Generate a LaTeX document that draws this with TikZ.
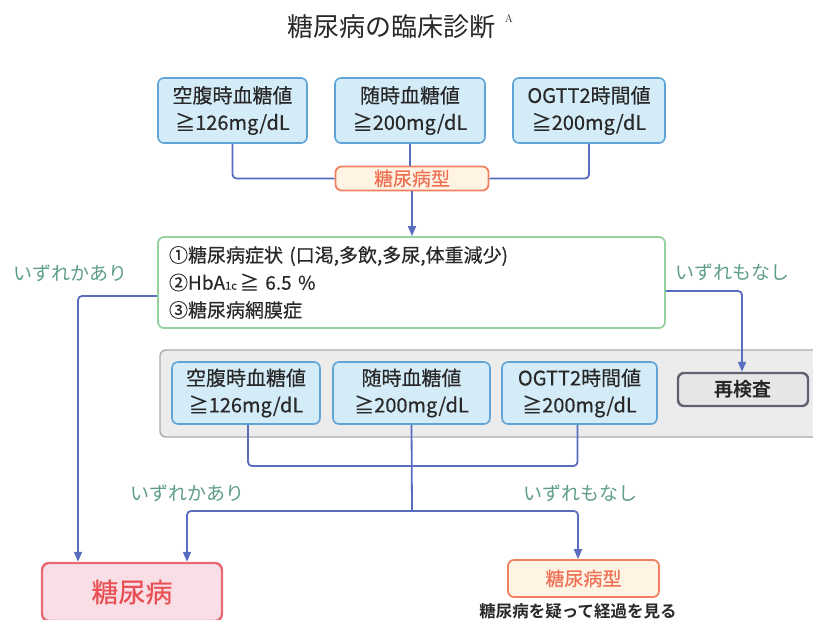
\documentclass[tikz,border=0pt]{standalone}
\usepackage{fontspec}
\newfontfamily\jp[BoldFont={Noto Sans CJK JP}, BoldFeatures={FakeBold=0.35}]{Noto Sans CJK JP}
\newfontfamily\jpb{Noto Sans CJK JP Bold}
\usetikzlibrary{arrows.meta}
\definecolor{bluefill}{RGB}{212,236,248}
\definecolor{blueline}{RGB}{96,164,214}
\definecolor{conn}{RGB}{88,108,192}
\definecolor{greenline}{RGB}{150,210,160}
\definecolor{lbl}{RGB}{94,158,134}
\definecolor{orline}{RGB}{240,128,96}
\definecolor{orfill}{RGB}{255,244,228}
\definecolor{ortext}{RGB}{238,112,84}
\definecolor{pinkfill}{RGB}{250,222,230}
\definecolor{redline}{RGB}{232,104,116}
\definecolor{redtext}{RGB}{232,80,84}
\definecolor{panelfill}{RGB}{236,236,236}
\definecolor{panelline}{RGB}{170,170,170}
\definecolor{refill}{RGB}{230,230,232}
\definecolor{reline}{RGB}{96,96,112}
\definecolor{txt}{RGB}{40,40,40}
\tikzset{
  valbox/.style={draw=blueline, fill=bluefill, line width=1.6pt, rounded corners=6pt,
    align=center, inner sep=0pt, text=txt, font=\jp\bfseries\fontsize{20}{27}\selectfont},
  typebox/.style={draw=orline, fill=orfill, line width=1.8pt, rounded corners=6pt,
    inner sep=0pt, text=ortext, font=\jp\bfseries\fontsize{19}{20}\selectfont},
  lblstyle/.style={text=lbl, font=\jp\fontsize{19}{20}\selectfont, inner sep=0pt},
  conline/.style={draw=conn, line width=1.8pt, rounded corners=4pt},
  arr/.style={conline, -{Triangle[length=10pt,width=8pt]}},
}
\begin{document}
\begin{tikzpicture}[x=1pt,y=-1pt]
\useasboundingbox (0,0) rectangle (813,620);
\clip (0,0) rectangle (813,620);

% title
\node[inner sep=0pt, text=txt, font=\jp\fontsize{26}{28}\selectfont] (title) at (391,27) {糖尿病の臨床診断};
\node[inner sep=0pt, text=txt, font=\fontsize{11}{12}\selectfont] (supA) at (509,19) {A};

% top row
\node[valbox, minimum width=149pt, minimum height=65pt] (t1) at (232.5,110.5) {空腹時血糖値\\≧126mg/dL};
\node[valbox, minimum width=150pt, minimum height=65pt] (t2) at (410,110.5) {随時血糖値\\≧200mg/dL};
\node[valbox, minimum width=152pt, minimum height=65pt] (t3) at (589,110.5) {OGTT2時間値\\≧200mg/dL};

\node[typebox, minimum width=153pt, minimum height=24pt] (ty1) at (412,178.5) {糖尿病型};

% condition box
\node[draw=greenline, fill=white, line width=1.8pt, rounded corners=6pt,
  minimum width=507pt, minimum height=91pt, text width=485pt, align=left,
  inner sep=0pt, text=txt, font=\jp\bfseries\fontsize{19}{27.5}\selectfont] (cond) at (411.5,282.5)
  {①糖尿病症状 (口渇,多飲,多尿,体重減少)\\②HbA{\fontsize{11}{11}\selectfont 1c}\,≧ 6.5 \%\\③糖尿病網膜症};

\node[lblstyle] (l1) at (70,273) {いずれかあり};
\node[lblstyle] (l2) at (732,272) {いずれもなし};

% panel
\node[draw=panelline, fill=panelfill, line width=1.4pt, rounded corners=6pt,
  minimum width=670pt, minimum height=87pt, inner sep=0pt] (panel) at (495,393.5) {};

\node[valbox, minimum width=148pt, minimum height=62pt] (b1) at (246,393) {空腹時血糖値\\≧126mg/dL};
\node[valbox, minimum width=157pt, minimum height=62pt] (b2) at (411.5,393) {随時血糖値\\≧200mg/dL};
\node[valbox, minimum width=155pt, minimum height=62pt] (b3) at (579.5,393) {OGTT2時間値\\≧200mg/dL};
\node[draw=reline, fill=refill, line width=2.4pt, rounded corners=6pt,
  minimum width=130pt, minimum height=33pt, inner sep=0pt, text=txt,
  font=\jpb\fontsize{19}{20}\selectfont] (re) at (743,389.5) {再検査};

\node[lblstyle] (l3) at (187,493) {いずれかあり};
\node[lblstyle] (l4) at (580,493) {いずれもなし};

% results
\node[draw=redline, fill=pinkfill, line width=2.4pt, rounded corners=7pt,
  minimum width=180pt, minimum height=58pt, inner sep=0pt, text=redtext,
  font=\jp\bfseries\fontsize{27}{28}\selectfont] (dm) at (132,592) {糖尿病};
\node[typebox, minimum width=151pt, minimum height=37pt] (ty2) at (583.5,578.5) {糖尿病型};
\node[inner sep=0pt, text=txt, font=\jpb\fontsize{16.5}{18}\selectfont] (note) at (578,611) {糖尿病を疑って経過を見る};

% connectors top
\draw[conline] (t1.south) |- (ty1.west);
\draw[conline] (t3.south) |- (ty1.east);
\draw[conline] (t2.south) -- (t2.south |- ty1.north);
\draw[arr] (ty1.south) -- (ty1.south |- cond.north);

% from condition box
\coordinate (L) at (78,296);
\coordinate (R) at (742,291);
\draw[arr] (cond.west |- L) -- (L) -- (L |- dm.north);
\draw[arr] (cond.east |- R) -- (R) -- (R |- re.north);

% bottom connectors
\coordinate (J1) at (412,466);
\coordinate (J2) at (412,511);
\coordinate (Lb) at (187,511);
\coordinate (Rb) at (578,511);
\draw[conline] ([xshift=2pt]b1.south) -- ([xshift=2pt]b1.south |- J1) -- ([xshift=-2pt]b3.south |- J1) -- ([xshift=-2pt]b3.south);
\draw[conline] (b2.south) -- (J2);
\draw[arr] (J2) -- (Lb) -- (Lb |- dm.north);
\draw[arr] (J2) -- (Rb) -- (Rb |- ty2.north);
\end{tikzpicture}
\end{document}
